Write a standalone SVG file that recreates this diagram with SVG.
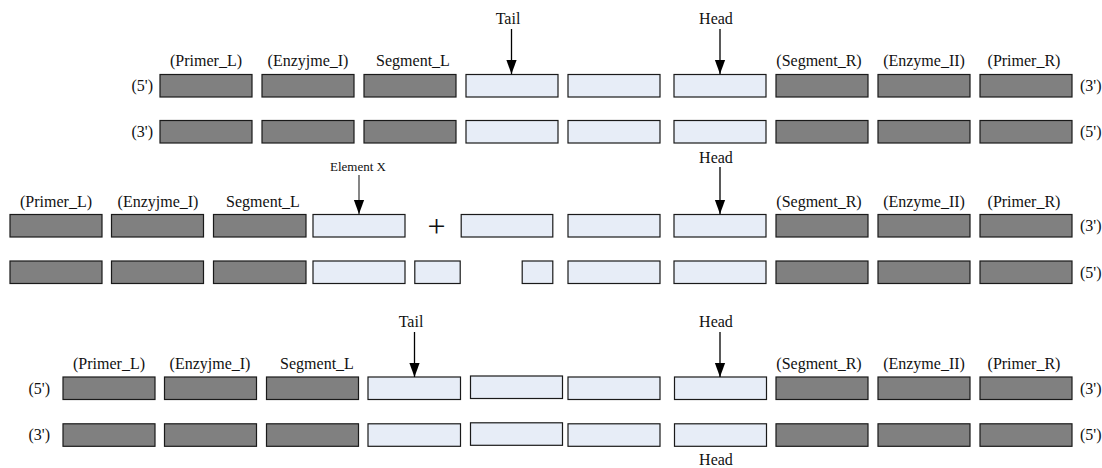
<svg xmlns="http://www.w3.org/2000/svg" width="1102" height="468" viewBox="0 0 1102 468" font-family="'Liberation Serif', 'Times New Roman', Times, serif">
<defs>
<style>
.d{fill:#808080;stroke:#1a1a1a;stroke-width:1.2}
.l{fill:#e7edf7;stroke:#1a1a1a;stroke-width:1.2}
text{font-family:'Liberation Serif','Times New Roman',Times,serif;font-size:16px;fill:#111}
.c{text-anchor:middle}
.e{text-anchor:end}
.s{font-size:13px}
.p{font-size:32px}
.a{stroke:#000;stroke-width:1.3;fill:none;marker-end:url(#ah)}
.g{stroke:#444;stroke-width:1.3;fill:none;marker-end:url(#ah)}
</style>
<marker id="ah" viewBox="0 -6 15 12" markerWidth="15" markerHeight="12" refX="14.5" refY="0" orient="auto" markerUnits="userSpaceOnUse">
<path d="M0,-5.3 L14.5,0 L0,5.3 z" fill="#000"/>
</marker>
</defs>
<rect width="1102" height="468" fill="#fff"/>

<g id="top-section">
<g id="top-5prime">
<text x="153" y="91" class="e">(5')</text>
<rect class="d" x="160" y="74.5" width="92" height="22.5"/>
<rect class="d" x="262" y="74.5" width="92" height="22.5"/>
<rect class="d" x="364" y="74.5" width="92" height="22.5"/>
<rect class="l" x="466" y="74.5" width="92" height="22.5"/>
<rect class="l" x="568" y="74.5" width="92" height="22.5"/>
<rect class="l" x="674" y="74.5" width="92" height="22.5"/>
<rect class="d" x="776" y="74.5" width="92" height="22.5"/>
<rect class="d" x="878" y="74.5" width="92" height="22.5"/>
<rect class="d" x="980" y="74.5" width="92" height="22.5"/>
<text x="1080" y="91">(3')</text>
</g>
<g id="top-3prime">
<text x="153" y="137" class="e">(3')</text>
<rect class="d" x="160" y="120.5" width="92" height="22.5"/>
<rect class="d" x="262" y="120.5" width="92" height="22.5"/>
<rect class="d" x="364" y="120.5" width="92" height="22.5"/>
<rect class="l" x="466" y="120.5" width="92" height="22.5"/>
<rect class="l" x="568" y="120.5" width="92" height="22.5"/>
<rect class="l" x="674" y="120.5" width="92" height="22.5"/>
<rect class="d" x="776" y="120.5" width="92" height="22.5"/>
<rect class="d" x="878" y="120.5" width="92" height="22.5"/>
<rect class="d" x="980" y="120.5" width="92" height="22.5"/>
<text x="1080" y="137">(5')</text>
</g>
<g id="top-labels">
<text x="206" y="66" class="c">(Primer_L)</text>
<text x="308" y="66" class="c">(Enzyjme_I)</text>
<text x="413" y="66" class="c">Segment_L</text>
<text x="819" y="66" class="c">(Segment_R)</text>
<text x="924" y="66" class="c">(Enzyme_II)</text>
<text x="1024" y="66" class="c">(Primer_R)</text>
<text x="508" y="24" class="c">Tail</text>
<text x="716" y="24" class="c">Head</text>
</g>
</g>

<g id="middle-section">
<g id="mid-upper">
<rect class="d" x="10" y="214.5" width="92" height="22.5"/>
<rect class="d" x="111.5" y="214.5" width="92" height="22.5"/>
<rect class="d" x="213.5" y="214.5" width="92.5" height="22.5"/>
<rect class="l" x="313" y="214.5" width="92" height="22.5"/>
<text x="436.5" y="237" class="c p">+</text>
<rect class="l" x="461.2" y="214.5" width="91.6" height="22.5"/>
<rect class="l" x="568" y="214.5" width="92" height="22.5"/>
<rect class="l" x="674" y="214.5" width="92" height="22.5"/>
<rect class="d" x="776" y="214.5" width="92" height="22.5"/>
<rect class="d" x="878" y="214.5" width="92" height="22.5"/>
<rect class="d" x="980" y="214.5" width="92" height="22.5"/>
<text x="1080" y="231">(3')</text>
</g>
<g id="mid-lower">
<rect class="d" x="10" y="261" width="92" height="22.5"/>
<rect class="d" x="111.5" y="261" width="92" height="22.5"/>
<rect class="d" x="213.5" y="261" width="92.5" height="22.5"/>
<rect class="l" x="313" y="261" width="92" height="22.5"/>
<rect class="l" x="414.8" y="261" width="45.4" height="22.5"/>
<rect class="l" x="522.2" y="261" width="30.6" height="22.5"/>
<rect class="l" x="568" y="261" width="92" height="22.5"/>
<rect class="l" x="674" y="261" width="92" height="22.5"/>
<rect class="d" x="776" y="261" width="92" height="22.5"/>
<rect class="d" x="878" y="261" width="92" height="22.5"/>
<rect class="d" x="980" y="261" width="92" height="22.5"/>
<text x="1080" y="278">(5')</text>
</g>
<g id="mid-labels">
<text x="56" y="207" class="c">(Primer_L)</text>
<text x="158" y="207" class="c">(Enzyjme_I)</text>
<text x="263" y="207" class="c">Segment_L</text>
<text x="819" y="207" class="c">(Segment_R)</text>
<text x="924" y="207" class="c">(Enzyme_II)</text>
<text x="1024" y="207" class="c">(Primer_R)</text>
<text x="358" y="171" class="c s">Element X</text>
<text x="716" y="163" class="c">Head</text>
</g>
</g>

<g id="bottom-section">
<g id="bot-5prime">
<text x="50" y="394" class="e">(5')</text>
<rect class="d" x="63" y="377" width="92" height="22.5"/>
<rect class="d" x="164.5" y="377" width="92" height="22.5"/>
<rect class="d" x="266.5" y="377" width="92" height="22.5"/>
<rect class="l" x="368" y="377" width="92.5" height="22.5"/>
<rect class="l" x="470.5" y="376" width="92" height="22.5"/>
<rect class="l" x="568" y="377" width="92" height="22.5"/>
<rect class="l" x="674.5" y="377" width="92" height="22.5"/>
<rect class="d" x="776" y="377" width="92" height="22.5"/>
<rect class="d" x="878" y="377" width="92" height="22.5"/>
<rect class="d" x="980" y="377" width="92" height="22.5"/>
<text x="1080" y="394">(3')</text>
</g>
<g id="bot-3prime">
<text x="50" y="440" class="e">(3')</text>
<rect class="d" x="63" y="423.8" width="92" height="22.5"/>
<rect class="d" x="164.5" y="423.8" width="92" height="22.5"/>
<rect class="d" x="266.5" y="423.8" width="92" height="22.5"/>
<rect class="l" x="368" y="423.8" width="92.5" height="22.5"/>
<rect class="l" x="470.5" y="422.8" width="92" height="22.5"/>
<rect class="l" x="568" y="423.8" width="92" height="22.5"/>
<rect class="l" x="674.5" y="423.8" width="92" height="22.5"/>
<rect class="d" x="776" y="423.8" width="92" height="22.5"/>
<rect class="d" x="878" y="423.8" width="92" height="22.5"/>
<rect class="d" x="980" y="423.8" width="92" height="22.5"/>
<text x="1080" y="440">(5')</text>
</g>
<g id="bot-labels">
<text x="109" y="369" class="c">(Primer_L)</text>
<text x="210" y="369" class="c">(Enzyjme_I)</text>
<text x="317" y="369" class="c">Segment_L</text>
<text x="819" y="369" class="c">(Segment_R)</text>
<text x="924" y="369" class="c">(Enzyme_II)</text>
<text x="1024" y="369" class="c">(Primer_R)</text>
<text x="411" y="327" class="c">Tail</text>
<text x="716" y="327" class="c">Head</text>
<text x="716" y="465" class="c">Head</text>
</g>
</g>

<g id="connectors">
<line class="a" x1="511.5" y1="29" x2="511.5" y2="74"/>
<line class="a" x1="720" y1="29" x2="720" y2="74"/>
<line class="g" x1="359" y1="175" x2="359" y2="214"/>
<line class="a" x1="720" y1="167" x2="720" y2="214"/>
<line class="a" x1="414.5" y1="332" x2="414.5" y2="377"/>
<line class="a" x1="720" y1="332" x2="720" y2="377"/>
</g>
</svg>
